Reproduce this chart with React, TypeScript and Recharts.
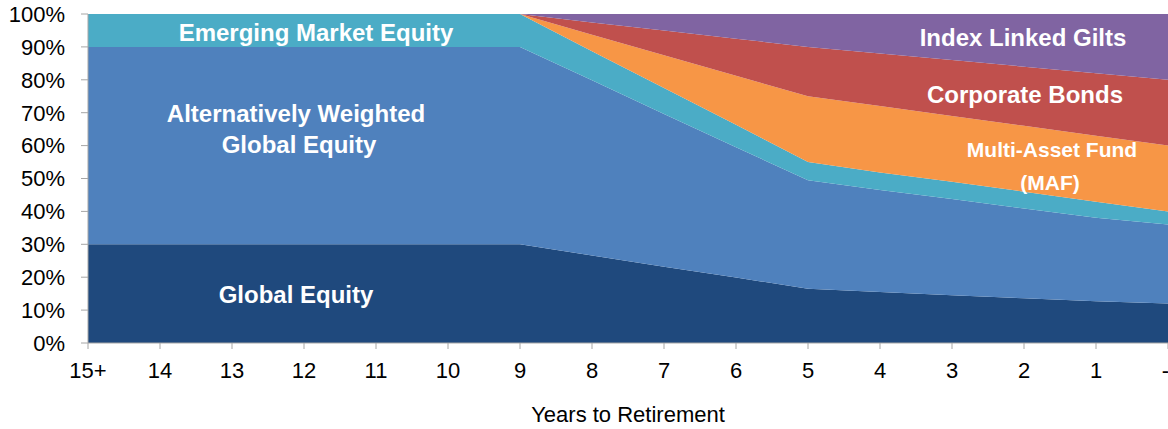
import { AreaChart, Area, XAxis, YAxis, Label } from 'recharts'

const years = ['15+', '14', '13', '12', '11', '10', '9', '8', '7', '6', '5', '4', '3', '2', '1', '-']

const globalEquity = [30, 30, 30, 30, 30, 30, 30, 26.6, 23.2, 19.9, 16.5, 15.5, 14.5, 13.6, 12.7, 12]
const altWeighted = [60, 60, 60, 60, 60, 60, 60, 53.3, 46.4, 39.6, 33, 31, 29.3, 27.3, 25.4, 24]
const emergingMkt = [10, 10, 10, 10, 10, 10, 10, 8.8, 7.9, 6.8, 5.5, 5.3, 5.2, 5.1, 4.8, 4]
const multiAsset = [0, 0, 0, 0, 0, 0, 0, 5, 10, 14.9, 20, 20.2, 20, 20, 20.1, 20]
const corpBonds = [0, 0, 0, 0, 0, 0, 0, 3.7, 7.5, 11.3, 15, 16, 17, 18, 19, 20]
const indexGilts = [0, 0, 0, 0, 0, 0, 0, 2.6, 5, 7.5, 10, 12, 14, 16, 18, 20]

const yTicks = [0, 10, 20, 30, 40, 50, 60, 70, 80, 90, 100]

const data = years.map((y, i) => ({
  year: y,
  ge: globalEquity[i],
  awge: altWeighted[i],
  eme: emergingMkt[i],
  maf: multiAsset[i],
  cb: corpBonds[i],
  ilg: indexGilts[i],
}))

const FONT = '"Liberation Sans", Arial, sans-serif'
const AXIS = '#a6a6a6'

const series = [
  { key: 'ge', color: '#1f497d' },
  { key: 'awge', color: '#4f81bd' },
  { key: 'eme', color: '#4bacc6' },
  { key: 'maf', color: '#f79646' },
  { key: 'cb', color: '#c0504d' },
  { key: 'ilg', color: '#8064a2' },
]

// area labels, page pixel coords
const labels = [
  { text: 'Emerging Market Equity', x: 316, y: 41, size: 24 },
  { text: 'Alternatively Weighted', x: 296, y: 122, size: 24 },
  { text: 'Global Equity', x: 299, y: 153, size: 24 },
  { text: 'Global Equity', x: 296, y: 303, size: 24 },
  { text: 'Index Linked Gilts', x: 1023, y: 46, size: 24 },
  { text: 'Corporate Bonds', x: 1025, y: 103, size: 24 },
  { text: 'Multi-Asset Fund', x: 1052, y: 157, size: 21 },
  { text: '(MAF)', x: 1050, y: 190, size: 21 },
]

// last label sits against the right edge, so anchor it at its end
const YearTick = (props: any) => {
  const { x, y, payload, index } = props
  const last = index === years.length - 1
  return (
    <text
      x={last ? x + 1 : x}
      y={y}
      dy="0.71em"
      textAnchor={last ? 'end' : 'middle'}
      fill="#000"
      fontSize={22}
      fontFamily={FONT}
    >
      {payload.value}
    </text>
  )
}

export default function App() {
  return (
    <div style={{ position: 'absolute', left: 0, top: 0, width: 1168, height: 429, background: '#fff' }}>
      <AreaChart width={1168} height={429} data={data} margin={{ top: 14, right: 0, bottom: 0, left: 0 }}>
        <XAxis
          dataKey="year"
          interval={0}
          height={86}
          stroke={AXIS}
          tickSize={6}
          tickMargin={13}
          tick={<YearTick />}
        >
          <Label
            value="Years to Retirement"
            position="insideBottom"
            offset={7}
            style={{ fill: '#000', fontSize: 22, fontFamily: FONT }}
          />
        </XAxis>
        <YAxis
          width={88}
          domain={[0, 100]}
          ticks={yTicks}
          interval={0}
          tickFormatter={(v) => `${v}%`}
          stroke={AXIS}
          tickSize={7}
          tickMargin={16}
          tick={{ fill: '#000', fontSize: 22, fontFamily: FONT }}
        />
        {series.map((s) => (
          <Area
            key={s.key}
            type="linear"
            dataKey={s.key}
            stackId="1"
            fill={s.color}
            fillOpacity={1}
            stroke="none"
            isAnimationActive={false}
          />
        ))}
      </AreaChart>
      <svg width={1168} height={429} style={{ position: 'absolute', left: 0, top: 0, pointerEvents: 'none' }}>
        {labels.map((l, i) => (
          <text
            key={i}
            x={l.x}
            y={l.y}
            textAnchor="middle"
            fill="#fff"
            fontSize={l.size}
            fontWeight="bold"
            fontFamily={FONT}
          >
            {l.text}
          </text>
        ))}
      </svg>
    </div>
  )
}
